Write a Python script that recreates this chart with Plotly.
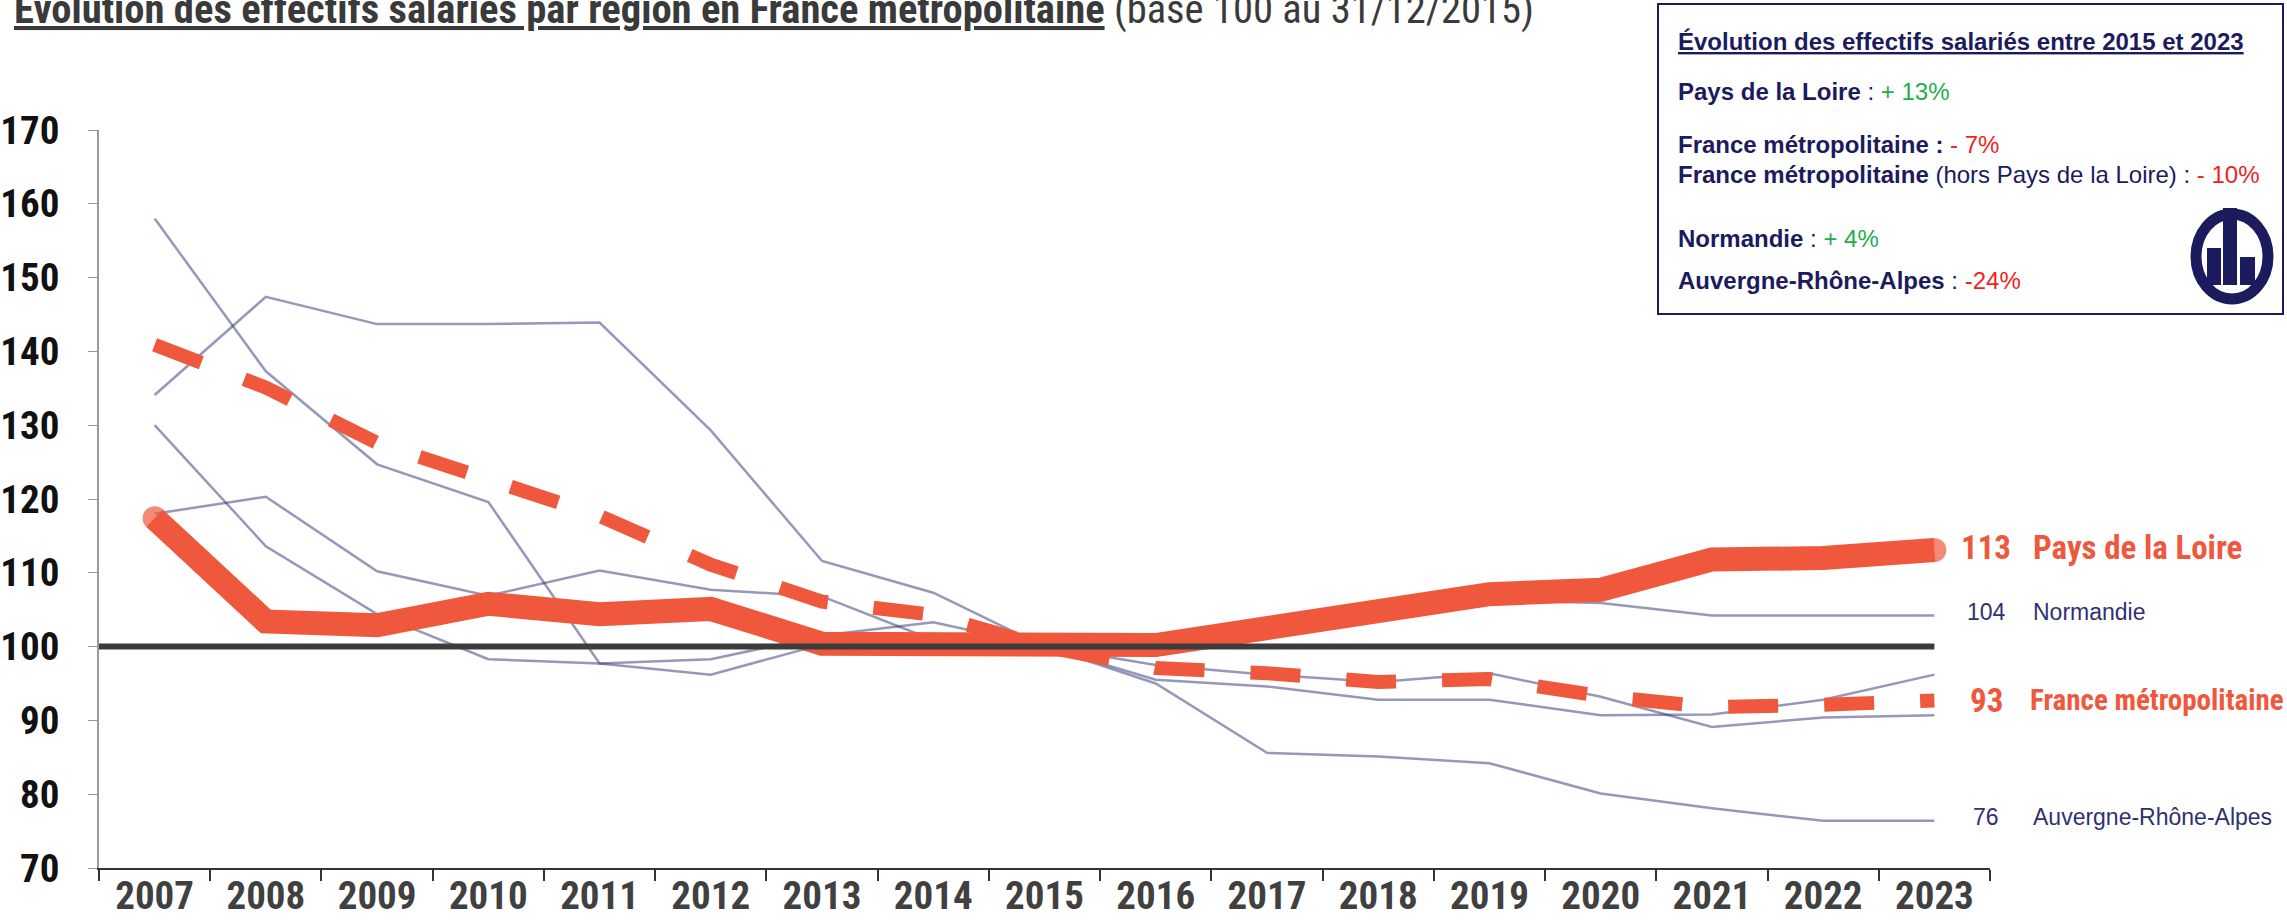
import plotly.graph_objects as go

years = [str(y) for y in range(2007, 2024)]

pays_de_la_loire = [117.4, 103.4, 102.9, 105.8, 104.4, 105.1, 100.4, 100.3, 100.0, 100.2,
                    102.5, 104.5, 107.1, 107.7, 111.8, 112.0, 113.1]
france_metro = [140.9, 135.1, 127.6, 122.6, 117.7, 111.1, 106.1, 104.3, 100.0, 97.1,
                96.4, 95.2, 95.6, 93.3, 91.8, 92.1, 92.7]
normandie = [118.0, 120.3, 110.2, 106.9, 110.3, 107.7, 106.8, 100.9, 100.0, 100.5,
             102.0, 104.0, 106.3, 105.9, 104.2, 104.2, 104.2]
auvergne_rhone_alpes = [134.1, 147.4, 143.7, 143.7, 143.9, 129.3, 111.6, 107.3, 100.0, 95.0,
                        85.6, 85.1, 84.2, 80.1, 78.1, 76.4, 76.4]
region_a = [158.0, 137.3, 124.7, 119.6, 97.7, 98.3, 101.5, 103.3, 100.0, 97.5,
            96.2, 95.2, 96.4, 93.2, 89.1, 90.4, 90.7]
region_b = [130.0, 113.6, 104.4, 98.3, 97.7, 96.2, 100.3, 100.5, 100.0, 95.5,
            94.6, 92.8, 92.8, 90.7, 90.8, 92.8, 96.2]

yticks = [70, 80, 90, 100, 110, 120, 130, 140, 150, 160, 170]

NARROW = "Roboto Condensed, Liberation Sans Narrow, Arial Narrow, sans-serif"
REGULAR = "Liberation Sans, Arial, sans-serif"
ORANGE = "#F0583D"
GREY_LINE = "rgba(45,50,115,0.5)"
NAVY = "#1b1b5e"
NAVY_LBL = "#2e3270"
GREEN = "#1fae4b"
RED = "#f01e1e"

W, H = 2287, 920
ML, MR, MT, MB = 99, 297, 130, 52
PW, PH = W - ML - MR, H - MT - MB


def PX(x):
    return (x - ML) / PW


def PY(y):
    return (H - MB - y) / PH


fig = go.Figure()

for series in [region_a, region_b, auvergne_rhone_alpes, normandie]:
    fig.add_trace(go.Scatter(x=years, y=series, mode="lines",
                             line=dict(color=GREY_LINE, width=2.5),
                             hoverinfo="skip", showlegend=False))

fig.add_trace(go.Scatter(x=years, y=france_metro, mode="lines",
                         line=dict(color=ORANGE, width=14, dash="50px,46px"),
                         showlegend=False))

n = len(years)
fig.add_trace(go.Scatter(x=years, y=pays_de_la_loire, mode="lines+markers",
                         line=dict(color=ORANGE, width=24),
                         marker=dict(color=ORANGE, size=[24] + [0] * (n - 2) + [24], line=dict(width=0)),
                         showlegend=False))

# base 100 line
fig.add_shape(type="line", xref="x", yref="y", x0=-0.5, x1=n - 1, y0=100, y1=100,
              line=dict(color="#3c3c3c", width=6), layer="above")

# end labels
end_labels = [
    (pays_de_la_loire, "Pays de la Loire", ORANGE, 33, 0.35, 2031),
    (normandie, "Normandie", NAVY_LBL, 23, 0.5, 2031),
    (france_metro, "France métropolitaine", ORANGE, 29, 0.0, 2028),
    (auvergne_rhone_alpes, "Auvergne-Rhône-Alpes", NAVY_LBL, 23, 0.5, 2031),
]
for series, name, col, size, dy, xpx in end_labels:
    val = f"{round(series[-1])}"
    if size >= 29:
        f = dict(size=size, color=col, family=NARROW, weight="bold")
        fv = dict(size=33, color=col, family=NARROW, weight="bold")
    else:
        f = dict(size=size, color=col, family=REGULAR)
        fv = f
    fig.add_annotation(xref="paper", yref="y", x=PX(1986), y=series[-1] + dy, text=val,
                       showarrow=False, xanchor="center", yanchor="middle", font=fv)
    fig.add_annotation(xref="paper", yref="y", x=PX(xpx), y=series[-1] + dy, text=name,
                       showarrow=False, xanchor="left", yanchor="middle", font=f)

# title
fig.add_annotation(xref="paper", yref="paper", x=PX(12), y=PY(35), xanchor="left", yanchor="bottom",
                   text="<b><u>Évolution des effectifs salariés par région en France métropolitaine</u></b> (base 100 au 31/12/2015)",
                   showarrow=False, font=dict(size=40.6, color="#3a3a3a", family=NARROW))

# summary box
fig.add_shape(type="rect", xref="paper", yref="paper", x0=PX(1658), x1=PX(2283), y0=PY(314), y1=PY(4),
              line=dict(color=NAVY, width=2), fillcolor="white", layer="above")

box_lines = [
    (41, "<b><u>Évolution des effectifs salariés entre 2015 et 2023</u></b>"),
    (91, f"<b>Pays de la Loire</b> : <span style='color:{GREEN}'>+ 13%</span>"),
    (144, f"<b>France métropolitaine :</b> <span style='color:{RED}'>- 7%</span>"),
    (174, f"<b>France métropolitaine</b> (hors Pays de la Loire) : <span style='color:{RED}'>- 10%</span>"),
    (238, f"<b>Normandie</b> : <span style='color:{GREEN}'>+ 4%</span>"),
    (280, f"<b>Auvergne-Rhône-Alpes</b> : <span style='color:{RED}'>-24%</span>"),
]
for ypx, txt in box_lines:
    fig.add_annotation(xref="paper", yref="paper", x=PX(1676), y=PY(ypx), xanchor="left", yanchor="middle",
                       text=txt, showarrow=False, font=dict(size=24, color=NAVY, family=REGULAR))

# logo (approximation)
fig.add_shape(type="circle", xref="paper", yref="paper", x0=PX(2196), x1=PX(2268), y0=PY(299), y1=PY(214),
              line=dict(color=NAVY, width=11), layer="above")
for x0, x1, y0, y1 in [(2207, 2221, 285, 248), (2223, 2237, 285, 208), (2240, 2255, 285, 257)]:
    fig.add_shape(type="rect", xref="paper", yref="paper", x0=PX(x0), x1=PX(x1), y0=PY(y0), y1=PY(y1),
                  line=dict(width=0), fillcolor=NAVY, layer="above")

fig.update_xaxes(type="category", range=[-0.5, n - 0.5], tickson="boundaries", automargin=False,
                 ticks="outside", ticklen=11, tickcolor="#333", tickwidth=1.5,
                 showline=True, linecolor="#333", linewidth=2, showgrid=False, zeroline=False,
                 ticklabelstandoff=-8,
                 tickfont=dict(size=39, color="#404040", family=NARROW, weight="bold"))
fig.update_yaxes(range=[70, 170], tickvals=yticks, ticks="outside", ticklen=9, tickcolor="#999",
                 showline=True, linecolor="#999", linewidth=1.5, showgrid=False, zeroline=False,
                 ticklabelstandoff=21, automargin=False,
                 tickfont=dict(size=39, color="#111", family=NARROW, weight="bold"))

fig.update_layout(width=W, height=H, margin=dict(l=ML, r=MR, t=MT, b=MB, autoexpand=False),
                  plot_bgcolor="white", paper_bgcolor="white", showlegend=False)

fig.write_html("out.html", config={"displayModeBar": False},
               post_script="document.body.style.margin='0px';document.body.style.overflow='hidden';")
